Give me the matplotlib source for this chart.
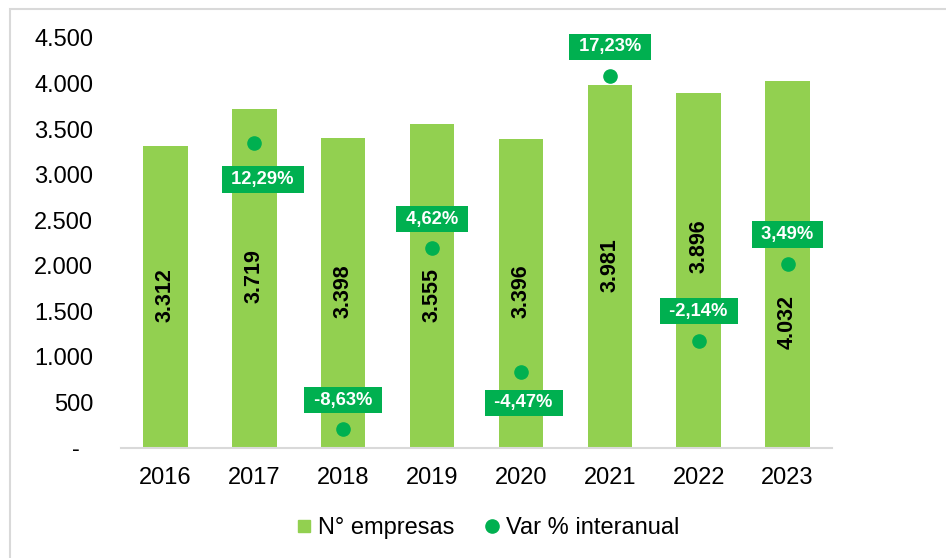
import matplotlib
matplotlib.use("Agg")
import matplotlib.pyplot as plt
from matplotlib.lines import Line2D
from matplotlib.patches import Rectangle

plt.rcParams['font.family'] = ['Liberation Sans', 'DejaVu Sans']

# ---- data ----
years = ["2016", "2017", "2018", "2019", "2020", "2021", "2022", "2023"]
empresas = [3312, 3719, 3398, 3555, 3396, 3981, 3896, 4032]
var_pct = [None, 12.29, -8.63, 4.62, -4.47, 17.23, -2.14, 3.49]
yticks = [0, 500, 1000, 1500, 2000, 2500, 3000, 3500, 4000, 4500]

# ---- layout / style ----
bar_label_y = [1680, 1890, 1720, 1675, 1720, 2010, 2210, 1380]  # data units
pct_offsets = [None, (6, -26), (0, 21), (0, 21), (2, -22), (0, 21), (0, 21), (0, 21)]  # points
BAR_C = "#92D050"
PT_C = "#00B050"
GRID_C = "#D9D9D9"

W, H = 946, 558
fig = plt.figure(figsize=(W / 100, H / 100), dpi=100)

# outer frame (only top/left visible)
fig.patches.append(Rectangle((10 / W, -0.05), 1.2, (H - 9) / H + 0.05,
                             transform=fig.transFigure, fill=False,
                             edgecolor=GRID_C, linewidth=1.5))

ax = fig.add_axes([121 / W, 1 - 448 / H, (832 - 121) / W, (448 - 38) / H])
x = list(range(len(years)))
ax.bar(x, empresas, width=0.5, color=BAR_C, zorder=2)
ax.set_xlim(-0.5, len(years) - 0.5)
ax.set_ylim(0, 4500)
ax.set_yticks(yticks)
ax.set_yticklabels(["-  " if v == 0 else f"{v:,}".replace(",", ".") for v in yticks])
ax.set_xticks(x)
ax.set_xticklabels(years)
ax.tick_params(axis='both', length=0, labelsize=17, colors="#000000")
ax.tick_params(axis='y', pad=20)
ax.tick_params(axis='x', pad=14)
for s in ["top", "right", "left"]:
    ax.spines[s].set_visible(False)
ax.spines["bottom"].set_color(GRID_C)
ax.spines["bottom"].set_linewidth(1.5)

for i, (v, ly) in enumerate(zip(empresas, bar_label_y)):
    ax.text(i, ly, f"{v:,}".replace(",", "."), rotation=90, ha="center", va="center",
            fontsize=15.5, fontweight="bold", color="#000000", zorder=4)

ax2 = ax.twinx()
ax2.set_ylim(-10, 20)
ax2.axis("off")
xs = [i for i, v in enumerate(var_pct) if v is not None]
vs = [v for v in var_pct if v is not None]
ax2.plot(xs, vs, linestyle="none", marker="o", markersize=9.5, color=PT_C, zorder=3)
for i, v in zip(xs, vs):
    dx, dy = pct_offsets[i]
    ax2.annotate(" " + f"{v:.2f}".replace(".", ",") + "% ", xy=(i, v), xytext=(dx, dy),
                 textcoords="offset points", ha="center", va="center",
                 fontsize=13.2, fontweight="bold", color="white",
                 bbox=dict(boxstyle="square,pad=0.25", facecolor=PT_C, edgecolor="none"))

handles = [Line2D([], [], linestyle="none", marker="s", markersize=8.8, color=BAR_C),
           Line2D([], [], linestyle="none", marker="o", markersize=9.5, color=PT_C)]
fig.legend(handles, ["N° empresas", "Var % interanual"], loc="center",
           bbox_to_anchor=(488 / W, 1 - 528 / H), ncol=2, frameon=False,
           fontsize=17, handlelength=0.6, handletextpad=0.3, columnspacing=1.3)

fig.savefig("out.png", dpi=100)
